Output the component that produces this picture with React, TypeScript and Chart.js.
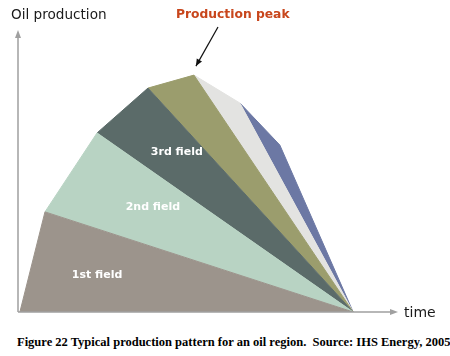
import React, { useEffect, useRef } from "react";
import { Chart, registerables } from "chart.js";

Chart.register(...registerables);

// Each field: start (time, cumulative top), peak (time, cumulative top), end at depletion
const fieldNames = ["1st field", "2nd field", "3rd field", "4th field", "5th field", "6th field"];
const fieldStartTime = [0.5, 7.1, 20.8, 34.2, 46.3, 58.4];
const fieldStartTop = [0, 35.5, 63.5, 79.4, 84.0, 74.1];
const fieldPeakTime = [7.1, 20.8, 34.2, 46.3, 58.4, 68.9];
const fieldPeakTop = [35.5, 63.5, 79.4, 84.0, 74.1, 59.2];
const endTime = 88.2;
const fieldColors = ["#9c948c", "#b8d3c3", "#5b6b69", "#9b9d6d", "#e3e3e1", "#6c78a4"];
const labeledFields = [0, 1, 2];
const labelPos = [
  [20.8, 13.1],
  [35.5, 37.2],
  [41.8, 56.7],
];
const peakIndex = 3;

const overlay = {
  id: "overlay",
  afterDraw(chart: any) {
    const { ctx, chartArea, scales } = chart;
    const { left, right, top, bottom } = chartArea;
    const xs = scales.x;
    const ys = scales.y;
    ctx.save();
    // axes
    ctx.strokeStyle = "#a0a0a0";
    ctx.fillStyle = "#a0a0a0";
    ctx.lineWidth = 1.5;
    ctx.beginPath();
    ctx.moveTo(left, bottom);
    ctx.lineTo(left, top + 6);
    ctx.moveTo(left, bottom);
    ctx.lineTo(right - 6, bottom);
    ctx.stroke();
    ctx.beginPath();
    ctx.moveTo(left, top);
    ctx.lineTo(left - 3, top + 8);
    ctx.lineTo(left + 3, top + 8);
    ctx.closePath();
    ctx.fill();
    ctx.beginPath();
    ctx.moveTo(right, bottom);
    ctx.lineTo(right - 8, bottom - 3);
    ctx.lineTo(right - 8, bottom + 3);
    ctx.closePath();
    ctx.fill();

    // axis labels
    ctx.fillStyle = "#1a1a1a";
    ctx.textBaseline = "middle";
    ctx.textAlign = "left";
    ctx.font = "13.6px 'DejaVu Sans'";
    ctx.fillText("Oil production", 11, 15);
    ctx.font = "14px 'DejaVu Sans'";
    ctx.fillText("time", right + 6, bottom + 1);

    // field labels
    ctx.fillStyle = "#ffffff";
    ctx.font = "bold 11px 'DejaVu Sans'";
    ctx.textAlign = "center";
    labeledFields.forEach((fi, k) => {
      ctx.fillText(fieldNames[fi], xs.getPixelForValue(labelPos[k][0]), ys.getPixelForValue(labelPos[k][1]));
    });

    // production peak annotation
    const px = xs.getPixelForValue(fieldPeakTime[peakIndex]) + 2;
    const py = ys.getPixelForValue(fieldPeakTop[peakIndex]) - 9;
    ctx.fillStyle = "#c8461c";
    ctx.font = "bold 12.3px 'DejaVu Sans'";
    ctx.textAlign = "left";
    ctx.fillText("Production peak", 176, 15);
    const sx = 218, sy = 27;
    ctx.strokeStyle = "#111";
    ctx.fillStyle = "#111";
    ctx.lineWidth = 1.2;
    ctx.beginPath();
    ctx.moveTo(sx, sy);
    ctx.lineTo(px, py);
    ctx.stroke();
    const ang = Math.atan2(py - sy, px - sx);
    ctx.beginPath();
    ctx.moveTo(px, py);
    ctx.lineTo(px - 7 * Math.cos(ang) + 3 * Math.sin(ang), py - 7 * Math.sin(ang) - 3 * Math.cos(ang));
    ctx.lineTo(px - 7 * Math.cos(ang) - 3 * Math.sin(ang), py - 7 * Math.sin(ang) + 3 * Math.cos(ang));
    ctx.closePath();
    ctx.fill();
    ctx.restore();
  },
};

export default function App() {
  const ref = useRef<HTMLCanvasElement>(null);
  useEffect(() => {
    if (!ref.current) return;
    const datasets = fieldNames.map((name, i) => ({
      label: name,
      data: [
        { x: fieldStartTime[i], y: fieldStartTop[i] },
        { x: fieldPeakTime[i], y: fieldPeakTop[i] },
        { x: endTime, y: 0 },
      ],
      backgroundColor: fieldColors[i],
      borderColor: fieldColors[i],
      borderWidth: 1,
      pointRadius: 0,
      tension: 0,
      fill: i === 0 ? "origin" : "-1",
    }));
    const chart = new Chart(ref.current, {
      type: "line",
      data: { datasets },
      options: {
        animation: false,
        responsive: false,
        maintainAspectRatio: false,
        layout: { padding: { left: 18, right: 52, top: 30, bottom: 13 } },
        plugins: { legend: { display: false }, tooltip: { enabled: false } },
        scales: {
          x: { type: "linear", min: 0, max: 100, display: false },
          y: { min: 0, max: 100, display: false },
        },
      },
      plugins: [overlay],
    });
    return () => chart.destroy();
  }, []);
  return (
    <div style={{ position: "absolute", left: 0, top: 0, width: 450, height: 356, background: "#fff" }}>
      <canvas ref={ref} width={450} height={325} style={{ display: "block" }} />
      <div
        style={{
          position: "absolute",
          left: 17,
          top: 334,
          fontFamily: "'Liberation Serif', serif",
          fontWeight: "bold",
          fontSize: 12.5,
          lineHeight: "17px",
          whiteSpace: "pre",
          color: "#000",
        }}
      >
        {"Figure 22 Typical production pattern for an oil region.  Source: IHS Energy, 2005"}
      </div>
    </div>
  );
}
